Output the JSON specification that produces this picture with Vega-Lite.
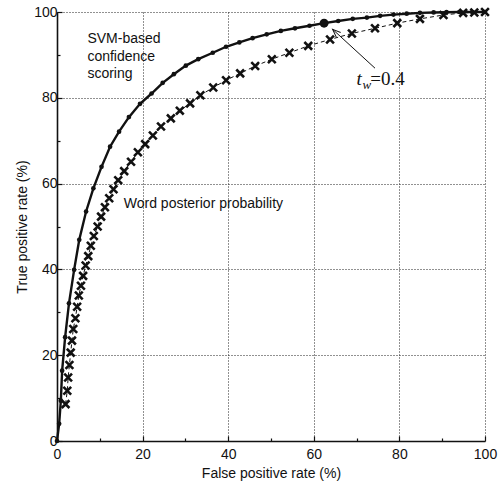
{
  "$schema": "https://vega.github.io/schema/vega-lite/v6.json",
  "width": 428,
  "height": 429,
  "autosize": "none",
  "padding": {"left": 57, "top": 12, "right": 19, "bottom": 40},
  "background": "white",
  "config": {
    "view": {"stroke": null},
    "font": "Liberation Sans",
    "axis": {
      "labelFont": "Liberation Sans",
      "titleFont": "Liberation Sans",
      "labelFontSize": 14,
      "titleFontSize": 14,
      "titleFontWeight": "normal",
      "labelColor": "#111",
      "titleColor": "#111",
      "domainColor": "#111",
      "domainWidth": 1.6,
      "tickColor": "#111",
      "tickWidth": 1.2,
      "gridColor": "#222",
      "gridDash": [1, 2],
      "gridWidth": 1,
      "labelFlush": false,
      "labelOverlap": false
    }
  },
  "datasets": {
    "svm": [
      {"fpr": 0, "tpr": 0}, {"fpr": 0.5, "tpr": 4}, {"fpr": 0.9, "tpr": 9.4}, {"fpr": 1.2, "tpr": 16.4},
      {"fpr": 1.9, "tpr": 24.2}, {"fpr": 2.8, "tpr": 32.1}, {"fpr": 4.0, "tpr": 39.9}, {"fpr": 5.2, "tpr": 46.9},
      {"fpr": 6.8, "tpr": 53.5}, {"fpr": 8.5, "tpr": 58.9}, {"fpr": 10.4, "tpr": 63.9}, {"fpr": 12.4, "tpr": 68.6},
      {"fpr": 14.5, "tpr": 72.1}, {"fpr": 16.8, "tpr": 75.5}, {"fpr": 19.4, "tpr": 78.6}, {"fpr": 22.1, "tpr": 81.0},
      {"fpr": 24.7, "tpr": 83.5}, {"fpr": 27.3, "tpr": 85.5}, {"fpr": 30.1, "tpr": 87.5}, {"fpr": 33.0, "tpr": 89.0},
      {"fpr": 36.4, "tpr": 90.5}, {"fpr": 39.5, "tpr": 91.9}, {"fpr": 42.6, "tpr": 92.9}, {"fpr": 45.7, "tpr": 93.9},
      {"fpr": 49.0, "tpr": 94.8}, {"fpr": 52.3, "tpr": 95.6}, {"fpr": 55.6, "tpr": 96.2}, {"fpr": 59.0, "tpr": 96.8},
      {"fpr": 62.4, "tpr": 97.4}, {"fpr": 65.7, "tpr": 97.9}, {"fpr": 69.1, "tpr": 98.4}, {"fpr": 72.4, "tpr": 98.7},
      {"fpr": 75.5, "tpr": 99.1}, {"fpr": 78.6, "tpr": 99.4}, {"fpr": 81.7, "tpr": 99.6}, {"fpr": 84.8, "tpr": 99.8},
      {"fpr": 88.0, "tpr": 99.9}, {"fpr": 91.0, "tpr": 99.95}, {"fpr": 94.0, "tpr": 100}, {"fpr": 97.0, "tpr": 100},
      {"fpr": 100, "tpr": 100}
    ],
    "word": [
      {"fpr": 2.0, "tpr": 8.6}, {"fpr": 2.4, "tpr": 11.7}, {"fpr": 2.6, "tpr": 14.8}, {"fpr": 2.9, "tpr": 17.7},
      {"fpr": 3.2, "tpr": 20.6}, {"fpr": 3.5, "tpr": 23.4}, {"fpr": 3.8, "tpr": 26.1}, {"fpr": 4.3, "tpr": 28.6},
      {"fpr": 4.7, "tpr": 31.3}, {"fpr": 5.1, "tpr": 33.9}, {"fpr": 5.6, "tpr": 36.2}, {"fpr": 6.1, "tpr": 38.5},
      {"fpr": 6.7, "tpr": 40.9}, {"fpr": 7.3, "tpr": 43.1}, {"fpr": 7.9, "tpr": 45.5}, {"fpr": 8.6, "tpr": 47.8},
      {"fpr": 9.5, "tpr": 50.0}, {"fpr": 10.3, "tpr": 52.3}, {"fpr": 11.2, "tpr": 54.5}, {"fpr": 12.2, "tpr": 56.6},
      {"fpr": 13.2, "tpr": 58.7}, {"fpr": 14.3, "tpr": 60.8}, {"fpr": 15.7, "tpr": 62.9}, {"fpr": 17.3, "tpr": 65.1},
      {"fpr": 18.9, "tpr": 67.3}, {"fpr": 20.6, "tpr": 69.2}, {"fpr": 22.4, "tpr": 71.2}, {"fpr": 24.3, "tpr": 73.3},
      {"fpr": 26.6, "tpr": 75.2}, {"fpr": 28.7, "tpr": 77.0}, {"fpr": 31.1, "tpr": 78.7}, {"fpr": 33.5, "tpr": 80.6},
      {"fpr": 36.5, "tpr": 82.4}, {"fpr": 39.5, "tpr": 84.1}, {"fpr": 42.8, "tpr": 85.7}, {"fpr": 46.3, "tpr": 87.4},
      {"fpr": 50.2, "tpr": 89.0}, {"fpr": 54.3, "tpr": 90.5}, {"fpr": 58.7, "tpr": 92.1}, {"fpr": 63.8, "tpr": 93.6},
      {"fpr": 68.9, "tpr": 95.0}, {"fpr": 74.3, "tpr": 96.2}, {"fpr": 79.5, "tpr": 97.4}, {"fpr": 84.8, "tpr": 98.4},
      {"fpr": 90.3, "tpr": 99.3}, {"fpr": 94.9, "tpr": 99.8}, {"fpr": 97.5, "tpr": 99.9}, {"fpr": 100, "tpr": 100}
    ],
    "op": [{"fpr": 62.4, "tpr": 97.4}],
    "arrow": [{"x1": 74.3, "y1": 86.9, "x2": 64.4, "y2": 95.96}],
    "notes": [
      {"id": "svm", "x": 7.1, "y": 92.7, "text": ["SVM-based", "confidence", "scoring"]},
      {"id": "word", "x": 15.6, "y": 54.3, "text": "Word posterior probability"},
      {"id": "t", "x": 70.0, "y": 83.0, "text": "t"},
      {"id": "w", "x": 71.4, "y": 82.0, "text": "w"},
      {"id": "eq", "x": 73.2, "y": 83.0, "text": "=0.4"}
    ]
  },
  "encoding": {
    "x": {"field": "fpr", "type": "quantitative", "scale": {"domain": [0, 100], "nice": false, "zero": false}},
    "y": {"field": "tpr", "type": "quantitative", "scale": {"domain": [0, 100], "nice": false, "zero": false}}
  },
  "layer": [
    {
      "data": {"name": "word"},
      "mark": {"type": "line", "color": "#111", "strokeWidth": 1, "strokeDash": [4, 3]},
      "encoding": {
        "x": {"field": "fpr", "type": "quantitative", "title": "False positive rate (%)",
          "axis": {
            "values": [0, 10, 20, 30, 40, 50, 60, 70, 80, 90, 100],
            "labelExpr": "datum.value % 20 === 0 ? datum.label : ''",
            "tickSize": {"condition": {"test": "datum.value % 20 === 0", "value": -5}, "value": -3},
            "gridOpacity": {"condition": {"test": "datum.value % 20 === 0", "value": 1}, "value": 0},
            "labelPadding": 11,
            "titlePadding": 3
          }},
        "y": {"field": "tpr", "type": "quantitative", "title": "True positive rate (%)",
          "axis": {
            "values": [0, 10, 20, 30, 40, 50, 60, 70, 80, 90, 100],
            "labelExpr": "datum.value % 20 === 0 ? datum.label : ''",
            "tickSize": {"condition": {"test": "datum.value % 20 === 0", "value": -5}, "value": -3},
            "gridOpacity": {"condition": {"test": "datum.value % 20 === 0", "value": 1}, "value": 0},
            "labelPadding": 5,
            "titlePadding": 4
          }}
      }
    },
    {
      "data": {"name": "word"},
      "mark": {"type": "point", "shape": "M-1,-1L1,1M-1,1L1,-1", "size": 60, "filled": false, "stroke": "#111", "strokeWidth": 2.6, "opacity": 1}
    },
    {
      "data": {"name": "svm"},
      "mark": {"type": "line", "color": "#111", "strokeWidth": 2.4}
    },
    {
      "data": {"name": "svm"},
      "mark": {"type": "point", "shape": "circle", "size": 22, "filled": true, "color": "#111", "opacity": 1}
    },
    {
      "data": {"name": "op"},
      "mark": {"type": "point", "shape": "circle", "size": 80, "filled": true, "color": "#111", "opacity": 1}
    },
    {
      "data": {"name": "arrow"},
      "mark": {"type": "rule", "color": "#111", "strokeWidth": 1},
      "encoding": {
        "x": {"field": "x1", "type": "quantitative"},
        "y": {"field": "y1", "type": "quantitative"},
        "x2": {"field": "x2"},
        "y2": {"field": "y2"}
      }
    },
    {
      "data": {"name": "arrow"},
      "mark": {"type": "point", "shape": "M-0.8,2L0,0L0.8,2", "size": 64, "filled": false, "stroke": "#111", "strokeWidth": 1, "angle": 313, "opacity": 1},
      "encoding": {
        "x": {"field": "x2", "type": "quantitative"},
        "y": {"field": "y2", "type": "quantitative"}
      }
    },
    {
      "data": {"name": "notes"},
      "transform": [{"filter": "datum.id === 'svm' || datum.id === 'word'"}],
      "mark": {"type": "text", "align": "left", "baseline": "alphabetic", "font": "Liberation Sans", "fontSize": 14, "lineHeight": 17.5, "color": "#111"},
      "encoding": {
        "x": {"field": "x", "type": "quantitative"},
        "y": {"field": "y", "type": "quantitative"},
        "text": {"field": "text"}
      }
    },
    {
      "data": {"name": "notes"},
      "transform": [{"filter": "datum.id === 't'"}],
      "mark": {"type": "text", "align": "left", "baseline": "alphabetic", "font": "Liberation Serif", "fontStyle": "italic", "fontSize": 19, "color": "#111"},
      "encoding": {
        "x": {"field": "x", "type": "quantitative"},
        "y": {"field": "y", "type": "quantitative"},
        "text": {"field": "text"}
      }
    },
    {
      "data": {"name": "notes"},
      "transform": [{"filter": "datum.id === 'w'"}],
      "mark": {"type": "text", "align": "left", "baseline": "alphabetic", "font": "Liberation Serif", "fontStyle": "italic", "fontSize": 13, "color": "#111"},
      "encoding": {
        "x": {"field": "x", "type": "quantitative"},
        "y": {"field": "y", "type": "quantitative"},
        "text": {"field": "text"}
      }
    },
    {
      "data": {"name": "notes"},
      "transform": [{"filter": "datum.id === 'eq'"}],
      "mark": {"type": "text", "align": "left", "baseline": "alphabetic", "font": "Liberation Serif", "fontSize": 19, "color": "#111"},
      "encoding": {
        "x": {"field": "x", "type": "quantitative"},
        "y": {"field": "y", "type": "quantitative"},
        "text": {"field": "text"}
      }
    }
  ]
}
